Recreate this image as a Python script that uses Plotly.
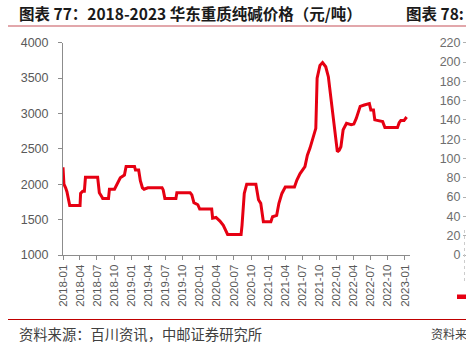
import plotly.graph_objects as go

# ---- data ----
dates = [
    "2018-01-01", "2018-01-06", "2018-01-15", "2018-01-22", "2018-02-06", "2018-04-02",
    "2018-04-05", "2018-04-16", "2018-04-25", "2018-05-01", "2018-07-05", "2018-07-14",
    "2018-07-28", "2018-08-01", "2018-09-01", "2018-09-06", "2018-10-03", "2018-10-16",
    "2018-11-03", "2018-11-25", "2018-12-04", "2019-01-18", "2019-01-23", "2019-02-09",
    "2019-02-18", "2019-03-01", "2019-03-10", "2019-03-30", "2019-06-14", "2019-06-20",
    "2019-06-29", "2019-08-27", "2019-09-01", "2019-11-11", "2019-11-20", "2019-12-01",
    "2019-12-22", "2020-01-01", "2020-03-05", "2020-03-10", "2020-03-28", "2020-04-18",
    "2020-05-06", "2020-05-29", "2020-08-09", "2020-08-14", "2020-08-26", "2020-09-08",
    "2020-10-27", "2020-11-10", "2020-11-22", "2020-12-06", "2021-01-15", "2021-01-24",
    "2021-02-15", "2021-02-27", "2021-03-15", "2021-04-02", "2021-05-21", "2021-06-03",
    "2021-06-20", "2021-07-16", "2021-07-29", "2021-08-12", "2021-08-30", "2021-09-12",
    "2021-09-19", "2021-10-04", "2021-10-18", "2021-11-04", "2021-11-18", "2021-12-05",
    "2021-12-23", "2022-01-05", "2022-01-15", "2022-01-24", "2022-02-05", "2022-02-23",
    "2022-03-20", "2022-04-03", "2022-04-16", "2022-04-25", "2022-05-07", "2022-05-29",
    "2022-06-25", "2022-07-03", "2022-07-17", "2022-07-24", "2022-09-04", "2022-09-16",
    "2022-11-22", "2022-12-01", "2022-12-10", "2022-12-27", "2023-01-10",
]
prices = [
    2240, 2000, 1950, 1895, 1700, 1700,
    1870, 1900, 1900, 2100, 2100, 1880,
    1820, 1800, 1800, 1930, 1930, 1990,
    2090, 2130, 2250, 2250, 2200, 2200,
    2050, 1950, 1930, 1950, 1950, 1920,
    1800, 1800, 1880, 1880, 1850, 1740,
    1710, 1650, 1650, 1520, 1530, 1480,
    1420, 1290, 1290, 1420, 1870, 2000,
    2000, 1780, 1730, 1470, 1470, 1540,
    1560, 1730, 1870, 1960, 1960, 2060,
    2150, 2250, 2410, 2510, 2670, 2790,
    3500, 3680, 3720, 3660, 3520, 3140,
    2790, 2460, 2480, 2530, 2770, 2860,
    2840, 2850, 2930, 3000, 3100, 3120,
    3140, 3050, 3050, 2910, 2885, 2800,
    2800, 2870, 2900, 2900, 2950,
]
y_ticks = [1000, 1500, 2000, 2500, 3000, 3500, 4000]
right_ticks = [0, 20, 40, 60, 80, 100, 120, 140, 160, 180, 200, 220]

title_text = "图表 77：2018-2023 华东重质纯碱价格（元/吨）"
title2_text = "图表 78:"
source_text = "资料来源：百川资讯，中邮证券研究所"
source2_text = "资料来"

W, H = 466, 347
px = lambda x: x / W
py = lambda y: 1 - y / H

LINE_RED = "#E60012"
AXIS_GREY = "#8c8c8c"
LABEL_GREY = "#595959"
NUM_FONT = "Liberation Sans, Arial, sans-serif"
CJK_FONT = "Noto Sans CJK SC, sans-serif"

fig = go.Figure()
fig.add_trace(go.Scatter(
    x=dates, y=prices, mode="lines",
    line=dict(color=LINE_RED, width=3),
    hoverinfo="skip", showlegend=False,
))
# invisible trace to host the partial right-hand axis
fig.add_trace(go.Scatter(x=[dates[0]], y=[None], yaxis="y2", showlegend=False,
                         mode="lines", hoverinfo="skip"))

fig.update_layout(
    width=W, height=H,
    margin=dict(l=0, r=0, t=0, b=0),
    paper_bgcolor="white", plot_bgcolor="white",
    xaxis=dict(
        domain=[px(63), px(410)],
        type="date",
        range=["2018-01-01", "2023-01-28"],
        tick0="2018-01-01", dtick="M3", tickformat="%Y-%m",
        tickangle=-90,
        ticks="outside", ticklen=4, tickcolor=AXIS_GREY,
        showline=True, linecolor=AXIS_GREY, linewidth=1,
        showgrid=False, zeroline=False,
        tickfont=dict(family=NUM_FONT, size=11.5, color=LABEL_GREY),
        automargin=False,
    ),
    yaxis=dict(
        domain=[py(255), py(42.7)],
        range=[1000, 4000],
        tickvals=y_ticks,
        ticks="outside", ticklen=4, tickcolor=AXIS_GREY,
        showline=True, linecolor=AXIS_GREY, linewidth=1,
        showgrid=False, zeroline=False,
        tickfont=dict(family=NUM_FONT, size=12.5, color=LABEL_GREY),
        ticklabelstandoff=7,
        automargin=False,
    ),
    yaxis2=dict(
        domain=[py(225), py(44)],
        range=[0, 220],
        tickvals=right_ticks,
        anchor="free", position=1.0, side="left", overlaying="y",
        ticks="outside", ticklen=3, tickcolor="#b0b0b0",
        showline=False, showgrid=False, zeroline=False,
        tickfont=dict(family=NUM_FONT, size=12.5, color="#6e6e6e"),
        ticklabelstandoff=0,
        automargin=False,
    ),
)

# header and footer rules
fig.add_shape(type="line", xref="paper", yref="paper",
              x0=px(8), x1=px(466), y0=py(26), y1=py(26),
              line=dict(color="#D98A8F", width=1.5))
fig.add_shape(type="line", xref="paper", yref="paper",
              x0=px(8), x1=px(466), y0=py(319.5), y1=py(319.5),
              line=dict(color="#C00000", width=1.2))
# dotted continuation of the right axis + red legend mark
fig.add_shape(type="line", xref="paper", yref="paper",
              x0=px(464.5), x1=px(464.5), y0=py(230), y1=py(282),
              line=dict(color="#cccccc", width=1, dash="dot"))
fig.add_shape(type="rect", xref="paper", yref="paper",
              x0=px(457), x1=px(467), y0=py(299), y1=py(294.5),
              line=dict(width=0), fillcolor=LINE_RED)

fig.add_annotation(text="<b>" + title_text + "</b>", xref="paper", yref="paper",
                   x=px(17), y=py(13), xanchor="left", yanchor="middle",
                   showarrow=False, font=dict(family=CJK_FONT, size=15.5, color="#1a1a1a"))
fig.add_annotation(text="<b>" + title2_text + "</b>", xref="paper", yref="paper",
                   x=px(404), y=py(13), xanchor="left", yanchor="middle",
                   showarrow=False, font=dict(family=CJK_FONT, size=15.5, color="#1a1a1a"))
fig.add_annotation(text=source_text, xref="paper", yref="paper",
                   x=px(17), y=py(333), xanchor="left", yanchor="middle",
                   showarrow=False, font=dict(family=CJK_FONT, size=14.3, color="#404040"))
fig.add_annotation(text=source2_text, xref="paper", yref="paper",
                   x=px(429), y=py(333), xanchor="left", yanchor="middle",
                   showarrow=False, font=dict(family=CJK_FONT, size=12, color="#404040"))

fig.write_html("out.html")
